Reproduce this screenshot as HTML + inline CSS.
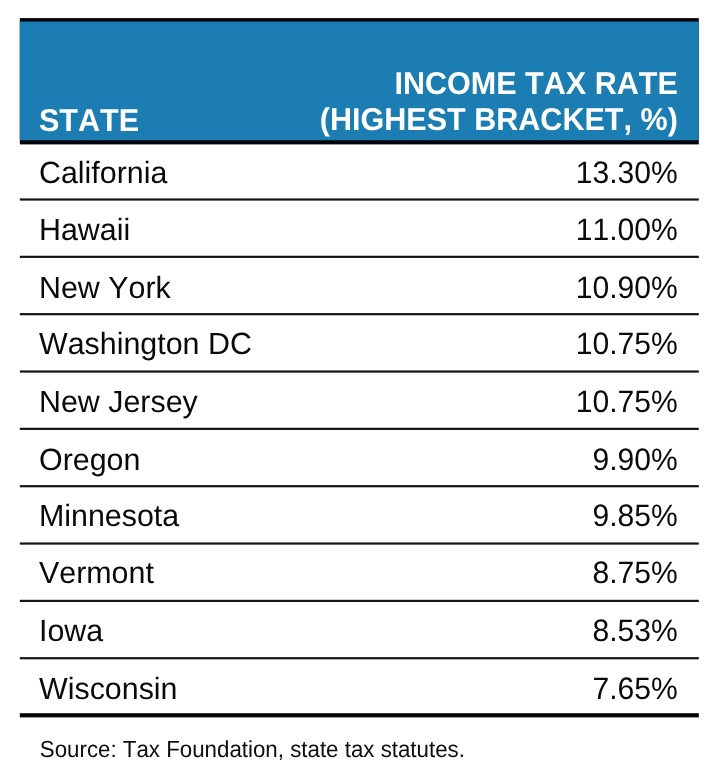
<!DOCTYPE html>
<html>
<head>
<meta charset="utf-8">
<title>Income Tax Rate by State</title>
<style>
  html, body { margin: 0; padding: 0; }
  body {
    width: 720px; height: 781px; overflow: hidden; position: relative;
    background: #ffffff;
    font-family: "Liberation Sans", sans-serif;
    color: #0a0a0a;
    font-kerning: none; font-feature-settings: "kern" 0, "liga" 0;
  }
  .abs { position: absolute; }
  svg.rules { left: 0; top: 0; }
  .t { white-space: nowrap; font-size: 30.4px; line-height: 36px; height: 36px; text-rendering: geometricPrecision; filter: blur(0.4px); transform: scaleY(1.01); }
  .l { left: 39.0px; transform-origin: 0 28.5px; }
  .r { right: 42.2px; text-align: right; transform-origin: 100% 28.5px; }
  .n { font-size: 30.1px; transform: scaleY(1.03); }
  .h { color: #ffffff; font-weight: bold; font-size: 30.55px; transform: scaleY(1.03); }
  .src { left: 39.8px; font-size: 22.3px; line-height: 26px; height: 26px; white-space: nowrap; text-rendering: geometricPrecision; filter: blur(0.4px); transform: scaleY(1.04); transform-origin: 0 20.5px; color: #0d0d0d; }
</style>
</head>
<body>
  <svg class="abs rules" width="720" height="781" viewBox="0 0 720 781">
    <rect x="19.8" y="18.1" width="679" height="126.3" fill="#03040c"/>
    <rect x="19.8" y="21.55" width="679" height="118.7" fill="#1b7db1"/>
    <rect x="19.8" y="198.40" width="679" height="2.2" fill="#141414"/>
    <rect x="19.8" y="255.74" width="679" height="2.2" fill="#141414"/>
    <rect x="19.8" y="313.08" width="679" height="2.2" fill="#141414"/>
    <rect x="19.8" y="370.42" width="679" height="2.2" fill="#141414"/>
    <rect x="19.8" y="427.76" width="679" height="2.2" fill="#141414"/>
    <rect x="19.8" y="485.10" width="679" height="2.2" fill="#141414"/>
    <rect x="19.8" y="542.44" width="679" height="2.2" fill="#141414"/>
    <rect x="19.8" y="599.78" width="679" height="2.2" fill="#141414"/>
    <rect x="19.8" y="657.12" width="679" height="2.2" fill="#141414"/>
    <rect x="19.8" y="713.2" width="679" height="4.2" fill="#040404"/>
  </svg>
  <div class="abs t l h" style="top:102.8px">STATE</div>
  <div class="abs t r h" style="top:66px">INCOME TAX RATE</div>
  <div class="abs t r h" style="top:102px">(HIGHEST BRACKET, %)</div>

  <div class="abs t l" style="top:155px">California</div><div class="abs t r n" style="top:156px">13.30%</div>
  <div class="abs t l" style="top:212px">Hawaii</div><div class="abs t r n" style="top:213px">11.00%</div>
  <div class="abs t l" style="top:270px">New York</div><div class="abs t r n" style="top:271px">10.90%</div>
  <div class="abs t l" style="top:326px">Washington DC</div><div class="abs t r n" style="top:327px">10.75%</div>
  <div class="abs t l" style="top:384px">New Jersey</div><div class="abs t r n" style="top:385px">10.75%</div>
  <div class="abs t l" style="top:442px">Oregon</div><div class="abs t r n" style="top:443px">9.90%</div>
  <div class="abs t l" style="top:498px">Minnesota</div><div class="abs t r n" style="top:499px">9.85%</div>
  <div class="abs t l" style="top:555px">Vermont</div><div class="abs t r n" style="top:556px">8.75%</div>
  <div class="abs t l" style="top:613px">Iowa</div><div class="abs t r n" style="top:614px">8.53%</div>
  <div class="abs t l" style="top:671px">Wisconsin</div><div class="abs t r n" style="top:672px">7.65%</div>

  <div class="abs src" style="top:737px">Source: Tax Foundation, state tax statutes.</div>
</body>
</html>
